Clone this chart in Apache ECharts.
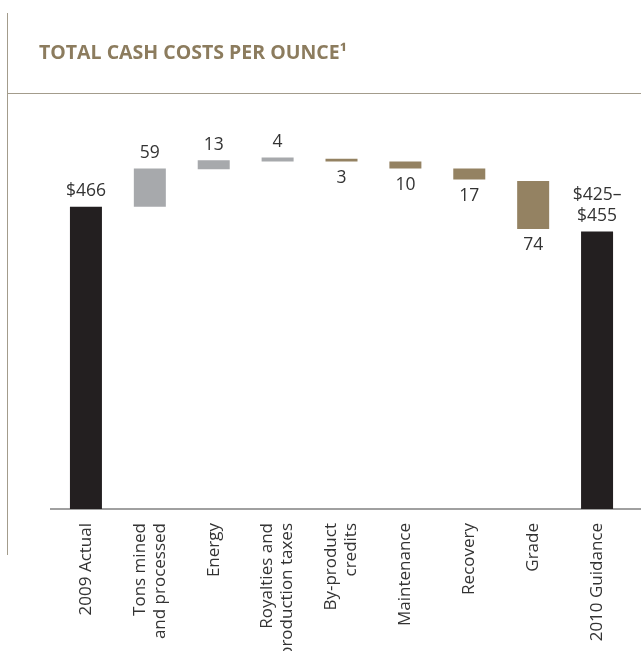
<!DOCTYPE html>
<html>
<head>
<meta charset="utf-8">
<script src="https://cdn.jsdelivr.net/npm/echarts@6/dist/echarts.min.js"></script>
<style>
  html, body { margin: 0; padding: 0; background: #fff; }
  #chart { width: 641px; height: 651px; }
</style>
</head>
<body>
<div id="chart"></div>
<script>
// waterfall: each step is drawn as a floating bar between low and high
const categories = ['2009 Actual', 'Tons mined\nand processed', 'Energy', 'Royalties and\nproduction taxes',
  'By-product\ncredits', 'Maintenance', 'Recovery', 'Grade', '2010 Guidance'];
const barLow = [0, 466, 524, 536, 536, 525, 508, 432, 0];
const barHigh = [466, 525, 538, 542, 540, 536, 525, 506, 428];
const valueLabels = ['$466', '59', '13', '4', '3', '10', '17', '74', '$425–\n$455'];
const barKind = ['total', 'up', 'up', 'up', 'down', 'down', 'down', 'down', 'total'];

const kindColor = { total: '#231f20', up: '#a7a9ac', down: '#948262' };
const font = 'Open Sans';

const chart = echarts.init(document.getElementById('chart'));

const visible = barHigh.map((h, i) => ({
  value: h - barLow[i],
  itemStyle: { color: kindColor[barKind[i]] },
  label: {
    position: barKind[i] === 'down' ? 'bottom' : 'top',
    distance: barKind[i] === 'down' ? 6 : 5
  }
}));

chart.setOption({
  animation: false,
  title: {
    text: 'TOTAL CASH COSTS PER OUNCE¹',
    left: 34, top: 38,
    textStyle: { fontFamily: font, fontSize: 19.5, fontWeight: 'bold', color: '#8c7c5e' }
  },
  grid: { left: 54, right: 12, top: 94, bottom: 142, outerBoundsMode: 'none' },
  xAxis: {
    type: 'category',
    data: categories,
    axisLine: { show: false },
    axisTick: { show: false },
    axisLabel: {
      interval: 0, rotate: 90, margin: 14,
      fontFamily: font, fontSize: 17, lineHeight: 20, color: '#333'
    }
  },
  yAxis: { type: 'value', min: 0, max: 640, show: false },
  series: [
    {
      type: 'bar', stack: 'w', barWidth: 32,
      itemStyle: { color: 'transparent' },
      data: barLow,
      silent: true
    },
    {
      type: 'bar', stack: 'w', barWidth: 32,
      data: visible,
      label: {
        show: true,
        fontFamily: font, fontSize: 17.5, lineHeight: 21, color: '#333',
        formatter: p => valueLabels[p.dataIndex]
      }
    }
  ],
  graphic: [
    { type: 'line', shape: { x1: 7.5, y1: 13, x2: 7.5, y2: 555 }, style: { stroke: '#a39c8c', lineWidth: 1 } },
    { type: 'line', shape: { x1: 7, y1: 93.5, x2: 641, y2: 93.5 }, style: { stroke: '#a39c8c', lineWidth: 1 } },
    { type: 'line', shape: { x1: 50, y1: 509, x2: 641, y2: 509 }, style: { stroke: '#808080', lineWidth: 1.5 } }
  ]
});
</script>
</body>
</html>
